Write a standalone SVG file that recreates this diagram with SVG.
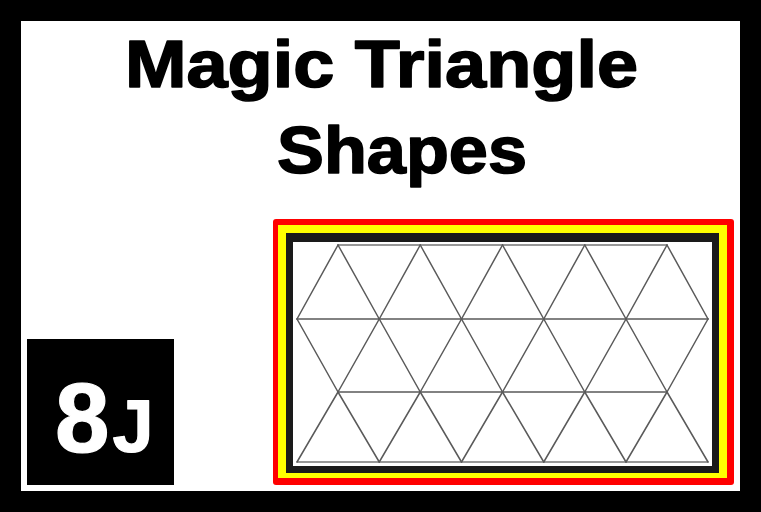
<svg xmlns="http://www.w3.org/2000/svg" width="761" height="512" viewBox="0 0 761 512">
  <style>
    .title { font-family: "Liberation Sans", Arial, sans-serif; font-weight: bold; font-size: 67px; fill: #000; stroke: #000; stroke-width: 1.6; stroke-linejoin: round; }
    .badge { font-family: "Liberation Sans", Arial, sans-serif; font-weight: bold; fill: #fff; stroke: #fff; stroke-width: 1.2; stroke-linejoin: round; }
    .grid line { stroke: #5a5a5a; stroke-width: 1.5; stroke-linecap: round; }
    .grid .h { stroke: #777; }
  </style>
  <rect x="0" y="0" width="761" height="512" fill="#000"/>
  <rect x="21" y="21" width="719" height="470" fill="#fff"/>

  <g id="title">
    <text class="title" x="125" y="87" textLength="513" lengthAdjust="spacingAndGlyphs">Magic Triangle</text>
    <text class="title" x="277" y="173" textLength="250" lengthAdjust="spacingAndGlyphs">Shapes</text>
  </g>

  <g id="badge">
    <rect x="27" y="339" width="147" height="146" fill="#000"/>
    <text class="badge" x="55" y="452" font-size="98">8<tspan font-size="74" dx="3">J</tspan></text>
  </g>

  <g id="frame">
    <rect x="273" y="219" width="461" height="266" rx="3" fill="#f00"/>
    <rect x="278" y="225" width="449" height="253" fill="#ff0"/>
    <rect x="286" y="233" width="433" height="240" fill="#1a1a1a"/>
    <rect x="293" y="242" width="419" height="224" fill="#fff"/>
  </g>

  <g id="grid" class="grid">
    <line class="h" x1="338" y1="245" x2="667" y2="245"/>
    <line x1="297" y1="319" x2="708" y2="319"/>
    <line x1="338" y1="392" x2="667" y2="392"/>
    <line class="h" x1="297" y1="462" x2="708" y2="462"/>
    <!-- row 1 -->
    <line x1="338" y1="245" x2="297" y2="319"/>
    <line x1="338" y1="245" x2="379.25" y2="319"/>
    <line x1="420.25" y1="245" x2="379.25" y2="319"/>
    <line x1="420.25" y1="245" x2="461.5" y2="319"/>
    <line x1="502.5" y1="245" x2="461.5" y2="319"/>
    <line x1="502.5" y1="245" x2="543.75" y2="319"/>
    <line x1="584.75" y1="245" x2="543.75" y2="319"/>
    <line x1="584.75" y1="245" x2="626" y2="319"/>
    <line x1="667" y1="245" x2="626" y2="319"/>
    <line x1="667" y1="245" x2="708" y2="319"/>
    <!-- row 2 -->
    <line x1="338" y1="392" x2="297" y2="319"/>
    <line x1="338" y1="392" x2="379.25" y2="319"/>
    <line x1="420.25" y1="392" x2="379.25" y2="319"/>
    <line x1="420.25" y1="392" x2="461.5" y2="319"/>
    <line x1="502.5" y1="392" x2="461.5" y2="319"/>
    <line x1="502.5" y1="392" x2="543.75" y2="319"/>
    <line x1="584.75" y1="392" x2="543.75" y2="319"/>
    <line x1="584.75" y1="392" x2="626" y2="319"/>
    <line x1="667" y1="392" x2="626" y2="319"/>
    <line x1="667" y1="392" x2="708" y2="319"/>
    <!-- row 3 -->
    <line x1="338" y1="392" x2="297" y2="462"/>
    <line x1="338" y1="392" x2="379.25" y2="462"/>
    <line x1="420.25" y1="392" x2="379.25" y2="462"/>
    <line x1="420.25" y1="392" x2="461.5" y2="462"/>
    <line x1="502.5" y1="392" x2="461.5" y2="462"/>
    <line x1="502.5" y1="392" x2="543.75" y2="462"/>
    <line x1="584.75" y1="392" x2="543.75" y2="462"/>
    <line x1="584.75" y1="392" x2="626" y2="462"/>
    <line x1="667" y1="392" x2="626" y2="462"/>
    <line x1="667" y1="392" x2="708" y2="462"/>
  </g>
</svg>
